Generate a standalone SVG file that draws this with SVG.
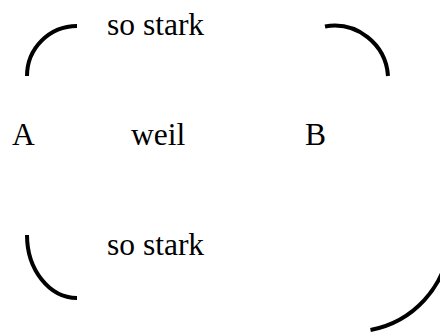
<svg xmlns="http://www.w3.org/2000/svg" width="440" height="332" viewBox="0 0 440 332">
<style>
.t{font-family:"Liberation Serif","Times New Roman",serif;font-size:31.5px;fill:#000}
.c{fill:none;stroke:#000;stroke-width:4}
</style>
<rect width="440" height="332" fill="#fff"/>
<g id="connectors">
<path class="c" d="M27,76 A50,50 0 0 1 77,26"/>
<path class="c" d="M325,26.5 A53.8,53.8 0 0 1 388,76"/>
<path class="c" d="M27,235 A50,63 0 0 0 77,298"/>
<path class="c" d="M449.5,244 A97.4,97.4 0 0 1 370.5,330"/>
</g>
<g id="label-top"><text class="t" x="107" y="35">so stark</text></g>
<g id="node-A"><text class="t" x="12" y="145">A</text></g>
<g id="label-weil"><text class="t" x="131" y="145">weil</text></g>
<g id="node-B"><text class="t" x="305" y="145">B</text></g>
<g id="label-bottom"><text class="t" x="107" y="255">so stark</text></g>
</svg>
